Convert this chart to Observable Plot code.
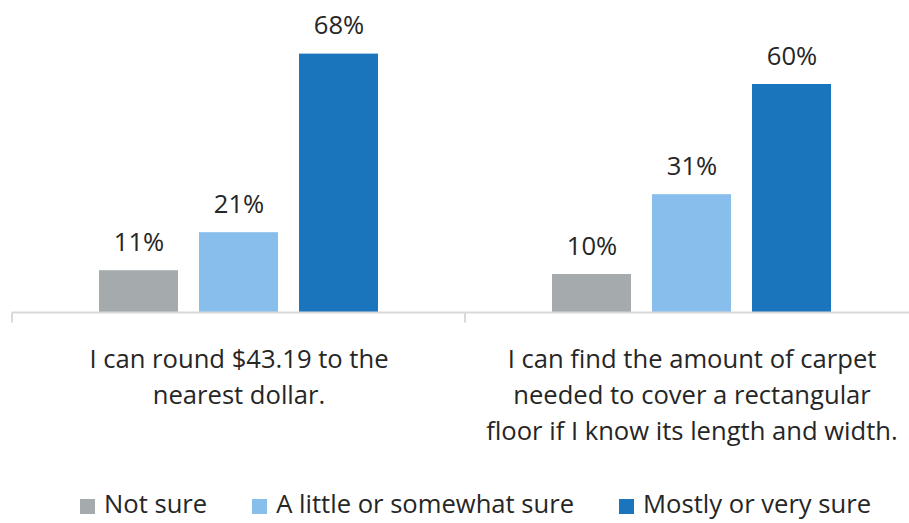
<!DOCTYPE html>
<html>
<head>
<meta charset="utf-8">
<script src="https://cdn.jsdelivr.net/npm/d3@7"></script>
<script src="https://cdn.jsdelivr.net/npm/@observablehq/plot@0.6"></script>
<style>
  html, body { margin: 0; padding: 0; background: #ffffff; }
  body { width: 909px; height: 523px; overflow: hidden; font-family: "Open Sans", sans-serif; }
  #chart svg { display: block; }
  #legend { position: relative; height: 43px; display: flex; padding-left: 80px; gap: 45px; }
  .item { display: flex; align-items: flex-start; color: #262626; font-size: 25.6px; line-height: 25px; }
  .sw { width: 15px; height: 15px; margin-top: 19px; margin-right: 9px; flex: none; }
  .lbl { margin-top: 11px; white-space: nowrap; }
</style>
</head>
<body>
<div id="chart"></div>
<div id="legend"></div>
<script>
// ---- data ----
const categories = [
  "I can round $43.19 to the\nnearest dollar.",
  "I can find the amount of carpet\nneeded to cover a rectangular\nfloor if I know its length and width."
];
const series = ["Not sure", "A little or somewhat sure", "Mostly or very sure"];
const roundValues = [11, 21, 68];
const carpetValues = [10, 31, 60];
const seriesColors = ["#A5ABAD", "#88BEEC", "#1B75BC"];

const valuesByCategory = [roundValues, carpetValues];
const rows = categories.flatMap((c, i) =>
  series.map((s, j) => ({category: c, series: s, value: valuesByCategory[i][j]}))
);

const textColor = "#262626";
const axisColor = "#D9D9D9";

const chart = Plot.plot({
  width: 909,
  height: 480,
  marginTop: 8,
  marginBottom: 168,
  marginLeft: 12,
  marginRight: -9,
  style: {fontFamily: "'Open Sans', sans-serif", fontSize: "25.6px", color: textColor, background: "#ffffff"},
  fx: {domain: categories, padding: 0, axis: null},
  x: {domain: series, paddingInner: 0.212, paddingOuter: 0.853, axis: null},
  y: {domain: [0, 80], axis: null},
  color: {domain: series, range: seriesColors},
  marks: [
    Plot.barY(rows, {fx: "category", x: "series", y: "value", fill: "series"}),
    Plot.text(rows, {
      fx: "category", x: "series", y: "value",
      text: d => d.value + "%",
      lineAnchor: "bottom", dy: -20,
      fill: textColor, fontSize: 25.6
    }),
    Plot.ruleY(categories, {
      fx: d => d, y: () => 0,
      stroke: axisColor, strokeWidth: 2,
      render: (index, scales, values, dimensions, context, next) => {
        const g = next(index, scales, values, dimensions, context);
        const y0 = scales.y(0);
        const x0 = dimensions.marginLeft;
        d3.select(g).append("line")
          .attr("x1", x0).attr("x2", x0)
          .attr("y1", y0).attr("y2", y0 + 10)
          .attr("stroke", axisColor).attr("stroke-width", 2);
        return g;
      }
    }),
    Plot.text(categories, {
      fx: d => d, text: d => d,
      frameAnchor: "bottom", lineAnchor: "top",
      dy: 30, lineHeight: 1.4,
      fill: textColor, fontSize: 25.6
    })
  ]
});
document.getElementById("chart").append(chart);

const legend = document.getElementById("legend");
series.forEach((s, i) => {
  const item = document.createElement("div");
  item.className = "item";
  const sw = document.createElement("span");
  sw.className = "sw";
  sw.style.background = seriesColors[i];
  const lbl = document.createElement("span");
  lbl.className = "lbl";
  lbl.textContent = s;
  item.append(sw, lbl);
  legend.append(item);
});
</script>
</body>
</html>
